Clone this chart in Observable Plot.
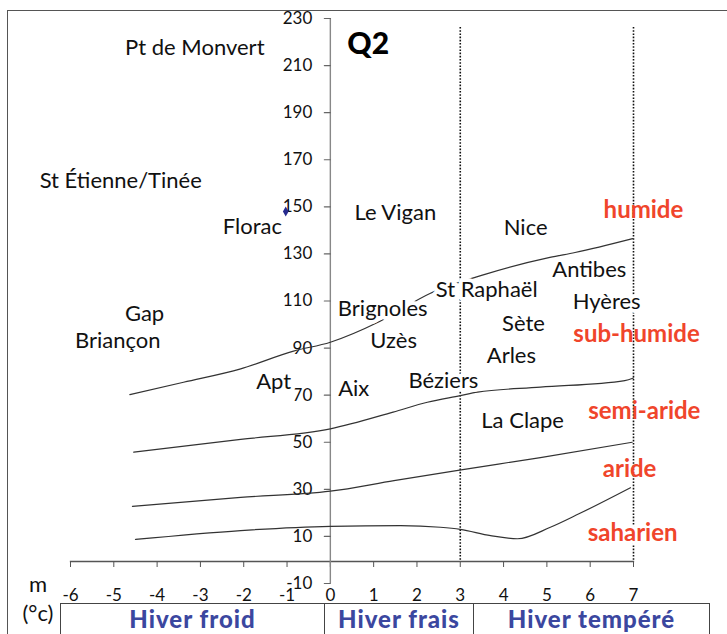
<!DOCTYPE html>
<html>
<head>
<meta charset="utf-8">
<script src="https://cdn.jsdelivr.net/npm/d3@7"></script>
<script src="https://cdn.jsdelivr.net/npm/@observablehq/plot@0.6"></script>
<style>
  body { margin: 0; background: #fff; }
  #wrap { position: relative; width: 727px; height: 634px; overflow: hidden; font-family: Lato, sans-serif; }
  #border { position: absolute; left: 7px; top: 10px; width: 900px; height: 900px; border-left: 1.5px solid #555; border-top: 1.5px solid #555; }
  #chart { position: absolute; left: 0; top: 0; }
  #unit { position: absolute; left: 8px; top: 569px; width: 60px; text-align: center; font-size: 22px; line-height: 29px; color: #111; }
  #bands { position: absolute; left: 60px; top: 603px; display: flex; }
  .band { box-sizing: border-box; height: 40px; border: 1.5px solid #444; border-right: none; color: #3b479f; font-weight: 900; font-size: 24px; letter-spacing: 1px; text-align: center; line-height: 29px; white-space: nowrap; }
  .band:last-child { border-right: 1.5px solid #444; }
</style>
</head>
<body>
<div id="wrap">
  <div id="border"></div>
  <div id="chart"></div>
  <div id="unit">m<br>(°c)</div>
  <div id="bands"></div>
</div>
<script>
// ---- data ----
const xTicks = [-6, -5, -4, -3, -2, -1, 0, 1, 2, 3, 4, 5, 6, 7];
const yTicks = [-10, 10, 30, 50, 70, 90, 110, 130, 150, 170, 190, 210, 230];
const winterLimits = [3, 7];
const winterNames = ["Hiver froid", "Hiver frais", "Hiver tempéré"];

// bioclimatic boundaries (m, Q2)
const humidM  = [-4.63, -3.39, -2.07, -0.85, 0, 1.15, 2.3, 3.57, 5.07, 5.65, 6.98];
const humidQ  = [70.2, 75.5, 81.2, 88.7, 92.5, 101.4, 113.2, 121.3, 128.5, 130.6, 136.5];
const subhM   = [-4.54, -2.07, 0, 1.45, 2.24, 3.0, 3.4, 4.85, 6.8, 7.0];
const subhQ   = [45.8, 51.2, 55.7, 62.8, 67, 69.8, 71.3, 73.4, 76.2, 77.3];
const semiM   = [-4.57, -2.07, 0, 1.47, 3.02, 4.85, 6.97];
const semiQ   = [22.8, 26.6, 29.2, 33.7, 38.3, 43.5, 50];
const aridM   = [-4.5, -2.07, 0, 1.62, 2.54, 3.0, 3.7, 4.32, 5.08, 5.74, 6.93];
const aridQ   = [8.7, 12.5, 14.3, 14.6, 13.9, 13, 10.3, 9, 13.9, 19.6, 30.7];

// stations
const stationNames = ["Pt de Monvert", "St Étienne/Tinée", "Florac", "Le Vigan", "Nice", "Antibes",
  "St Raphaël", "Hyères", "Brignoles", "Sète", "Uzès", "Arles", "Gap", "Briançon", "Apt", "Aix",
  "Béziers", "La Clape"];
const stationM = [-3.13, -4.84, -1.80, 1.50, 4.51, 5.98, 3.61, 6.38, 1.21, 4.46, 1.46, 4.18,
  -4.29, -4.91, -1.31, 0.54, 2.61, 4.44];
const stationQ = [217.3, 161.2, 141.6, 147.6, 141.2, 123.4, 114.9, 109.8, 106.8, 100.4, 93.2, 86.8,
  104.7, 93.2, 75.8, 72.8, 76.2, 59.2];
const floracPoint = {m: -1.03, q: 148};

// zone names
const zoneNames = ["humide", "sub-humide", "semi-aride", "aride", "saharien"];
const zoneM = [7.23, 7.07, 7.25, 6.91, 6.98];
const zoneQ = [148.4, 95.8, 63.0, 38.4, 11.2];

// ---- build ----
const toRows = (ms, qs) => ms.map((m, i) => ({m, q: qs[i]}));
const curves = [toRows(humidM, humidQ), toRows(subhM, subhQ), toRows(semiM, semiQ), toRows(aridM, aridQ)];
const stations = stationNames.map((name, i) => ({name, m: stationM[i], q: stationQ[i]}));
const zones = zoneNames.map((name, i) => ({name, m: zoneM[i], q: zoneQ[i]}));

const tickShape = {draw(context, l) { context.moveTo(0, 0); context.lineTo(0, -l); }};

const chart = Plot.plot({
  width: 727,
  height: 603,
  marginLeft: 70,
  marginRight: 94,
  marginTop: 18,
  marginBottom: 42,
  style: {fontFamily: "Lato, sans-serif", background: "transparent", overflow: "visible", color: "#111"},
  x: {domain: [-6, 7], label: null},
  y: {domain: [-10, 230], range: [583, 18], axis: null, label: null},
  marks: [
    Plot.frame({anchor: "bottom", stroke: "#555", strokeWidth: 1.3}),
    Plot.axisX(xTicks, {tickSize: 6, tickPadding: 21, fontSize: 17, tickFormat: d => String(d), label: null, stroke: "#555"}),
    Plot.ruleX(winterLimits, {insetTop: 9, stroke: "#111", strokeWidth: 1.6, strokeDasharray: "1.6,1.6"}),
    Plot.ruleX([0], {y1: -10, y2: 230, stroke: "#888", strokeWidth: 1.4}),
    Plot.vector(yTicks, {x: 0, y: d => d, length: 6, rotate: -90, anchor: "start", shape: tickShape, stroke: "#666", strokeWidth: 1.2}),
    Plot.text(yTicks, {x: 0, y: d => d, text: d => String(d), dx: -18, textAnchor: "end", fontSize: 17, fill: "#111"}),
    ...curves.map(c => Plot.line(c, {x: "m", y: "q", curve: "monotone-x", stroke: "#333", strokeWidth: 1.2})),
    Plot.text(["Q2"], {x: 0, frameAnchor: "top", dx: 17, dy: 14, textAnchor: "start", fontSize: 30, fontWeight: 900, fill: "#000"}),
    Plot.dot([floracPoint], {x: "m", y: "q", symbol: "diamond", r: 3, fill: "#262b8f"}),
    Plot.text(stations, {x: "m", y: "q", text: "name", fontSize: 22, fill: "#111", stroke: "white", strokeWidth: 8, paintOrder: "stroke"}),
    Plot.text(zones.slice(0, 4), {x: "m", y: "q", text: "name", fontSize: 24, fontWeight: 700, letterSpacing: "0.4px", fill: "#f0452b"}),
    Plot.text(zones.slice(4), {x: "m", y: "q", text: "name", fontSize: 24, fontWeight: 700, letterSpacing: "0.4px", fill: "#f0452b", stroke: "white", strokeWidth: 6, paintOrder: "stroke"})
  ]
});
document.getElementById("chart").appendChild(chart);

const bandWidths = [264, 149, 237];
const bands = document.getElementById("bands");
winterNames.forEach((name, i) => {
  const d = document.createElement("div");
  d.className = "band";
  d.style.width = bandWidths[i] + "px";
  d.textContent = name;
  bands.appendChild(d);
});
</script>
</body>
</html>
